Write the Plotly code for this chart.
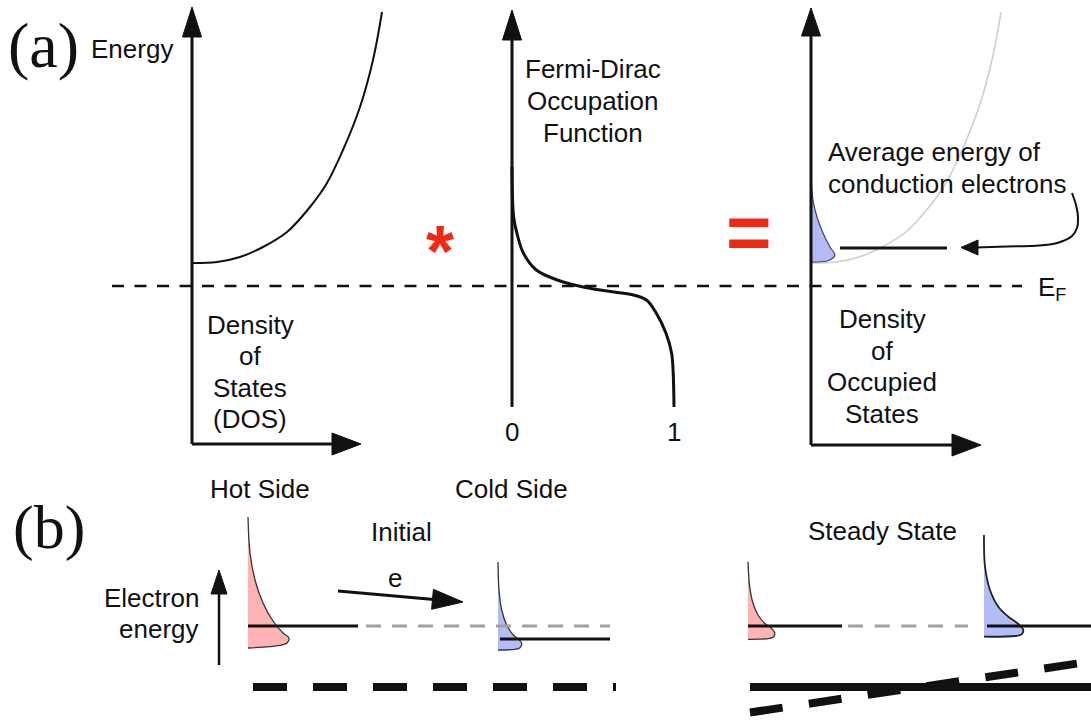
import plotly.graph_objects as go

W, H = 1091, 721
INK = "#111111"
RED = "#ee2a12"
SANS = "Arial"
SERIF = "Times New Roman"

# ---------------- panel (a) values ----------------
EF_Y = 286                      # canvas row of the Fermi level
DOS_X0, FD_X0, OCC_X0 = 192, 512, 811   # energy-axis columns of the three sketches
FD_SCALE = 162                  # canvas width of occupation 0 -> 1

# density of states: density (right of axis) vs energy above E_F
dos_density = [0, 25, 48, 71, 95, 118, 135, 151, 168, 181, 190]
dos_energy = [23, 24, 29, 39, 54, 79, 103, 136, 179, 226, 274]

# Fermi-Dirac occupation vs energy above E_F
fd_occupation = [0.0, 0.01, 0.03, 0.07, 0.15, 0.28, 0.44, 0.63, 0.75,
                 0.83, 0.89, 0.95, 0.985, 0.995, 1.0]
fd_energy = [119, 69, 53, 33, 16, 6, -1, -6, -9, -14, -27, -47, -67, -87, -121]

# occupied states (DOS x occupation)
occ_density = [0, 2, 6, 12, 19, 24, 22, 16, 0]
occ_energy = [108, 86, 69, 53, 39, 31, 28, 25, 24]
occ_mean_energy = 38
fd_tick_labels = ["0", "1"]

# ---------------- panel (b) values ----------------
# distribution outlines: (width, height) offsets from each base corner
hot_init_w = [0, 2, 7, 15, 25, 35, 41, 39, 32, 0]
hot_init_h = [131, 95, 68, 45, 27, 15, 10, 5, 2.6, 0]
cold_init_w = [0, 1, 3.7, 8.7, 15.3, 21.3, 23.7, 22, 17, 0]
cold_init_h = [88, 60, 40, 25, 15, 10, 6.7, 2.3, 0.7, 0]
hot_ss_w = [0, 1.7, 5, 10, 16.7, 23.4, 26.7, 25.7, 21.7, 0]
hot_ss_h = [77.6, 52.6, 36, 24.3, 16, 11, 6.6, 2.6, 1, 0]
cold_ss_w = [0, 1, 6, 14.3, 24.3, 34.3, 39.3, 37.7, 31, 0]
cold_ss_h = [101.7, 70, 46.7, 30, 20, 12.7, 6.7, 2.4, 0.7, 0]

fig = go.Figure()


def line(xs, ys, color=INK, width=2.0, dash=None, shape="linear"):
    fig.add_trace(go.Scatter(
        x=list(xs), y=list(ys), mode="lines", hoverinfo="skip",
        line=dict(color=color, width=width, dash=dash, shape=shape)))


def area(xs, ys, fill, edge="#333333", width=1.3):
    fig.add_trace(go.Scatter(
        x=list(xs), y=list(ys), mode="lines", fill="toself", fillcolor=fill,
        hoverinfo="skip", line=dict(color=edge, width=width, shape="spline")))


def head(tip, base_a, base_b):
    fig.add_trace(go.Scatter(
        x=[tip[0], base_a[0], base_b[0], tip[0]],
        y=[tip[1], base_a[1], base_b[1], tip[1]],
        mode="lines", fill="toself", fillcolor=INK, hoverinfo="skip",
        line=dict(color=INK, width=1)))


def text(s, x, y, size=26, color=INK, family=SANS, xanchor="center", bold=False):
    fig.add_annotation(
        x=x, y=y, text=f"<b>{s}</b>" if bold else s, showarrow=False,
        xanchor=xanchor, yanchor="middle",
        font=dict(family=family, size=size, color=color))


def lines_of_text(rows, x, y0, step, xanchor="center"):
    for i, row in enumerate(rows):
        text(row, x, y0 + i * step, xanchor=xanchor)


# ---------- (a) left: density of states ----------
line([DOS_X0, DOS_X0], [444, 36], width=3)
head((DOS_X0, 7), (DOS_X0 - 9.5, 37), (DOS_X0 + 9.5, 37))
line([DOS_X0, 333], [444, 444], width=3)
head((361, 444), (332, 433), (332, 455))
line([DOS_X0 + d for d in dos_density], [EF_Y - e for e in dos_energy],
     width=2, shape="spline")

# ---------- (a) middle: Fermi-Dirac occupation ----------
line([FD_X0, FD_X0], [407, 39], width=3)
head((FD_X0, 10), (FD_X0 - 9.5, 40), (FD_X0 + 9.5, 40))
line([FD_X0 + f * FD_SCALE for f in fd_occupation], [EF_Y - e for e in fd_energy],
     width=3, shape="spline")

# ---------- (a) right: occupied states ----------
line([OCC_X0 + d for d in dos_density], [EF_Y - e for e in dos_energy],
     color="#cfcfcf", width=1.6, shape="spline")
area([OCC_X0 + d for d in occ_density], [EF_Y - e for e in occ_energy],
     fill="#b3bbf2", edge="#404060", width=1.2)
line([OCC_X0, OCC_X0], [445, 34], width=3)
head((OCC_X0, 8), (OCC_X0 - 9.5, 36), (OCC_X0 + 9.5, 36))
line([OCC_X0, 953], [445, 445], width=3)
head((981, 445), (952, 434), (952, 456))
line([840, 947], [EF_Y - occ_mean_energy] * 2, width=3)

# curved pointer to the mean-energy line
line([1072, 1076, 1078, 1077, 1072, 1063, 1053, 1030, 1007, 976],
     [193, 205, 217, 228, 236, 241, 244, 246, 246.5, 247.5], width=2, shape="spline")
head((961, 247.5), (978, 240), (978, 255))

# Fermi level
line([112, 1022], [EF_Y, EF_Y], width=2.6, dash="12px,10.5px")

# ---------- (b) Electron energy axis ----------
line([219, 219], [665, 592], width=2.5)
head((219, 570), (211, 594), (227, 594))

# e arrow (hot -> cold)
line([338, 434], [591, 599.5], width=3)
head((463, 602), (433.4, 589.3), (431.6, 609.3))

# initial state distributions
area([248 + w for w in hot_init_w], [648 - h for h in hot_init_h], fill="#ffb3b3")
area([498 + w for w in cold_init_w], [650 - h for h in cold_init_h], fill="#b3bdf5")
line([248, 358], [626, 626], width=3)
line([366, 610], [626, 626], color="#a0a0a0", width=3, dash="15px,11px")
line([500, 610], [639, 639], width=3)
line([253, 616], [687, 687], width=8, dash="34px,26px")

# steady-state distributions
area([748 + w for w in hot_ss_w], [639.3 - h for h in hot_ss_h], fill="#ffb3b3")
area([984 + w for w in cold_ss_w], [636.7 - h for h in cold_ss_h], fill="#b3bdf5",
     edge="#222222", width=1.8)
line([748, 842], [626, 626], width=3)
line([848, 968], [626, 626], color="#a0a0a0", width=3, dash="15px,11.7px")
line([987, 1091], [626, 626], width=3)
line([750, 1091], [687, 687], width=8)
line([750, 1091], [712.5, 661.5], width=8, dash="33px,26.5px")

# ---------- text ----------
text("(a)", 43, 45, size=64, family=SERIF)
text("(b)", 49, 527, size=62, family=SERIF)
text("Energy", 132, 49)
lines_of_text(["Density", "of", "States", "(DOS)"], 250, 325, 31.3)
lines_of_text(["Fermi-Dirac", "Occupation", "Function"], 593, 69, 32)
text(fd_tick_labels[0], FD_X0, 432)
text(fd_tick_labels[1], FD_X0 + FD_SCALE, 432)
lines_of_text(["Average energy of", "conduction electrons"], 826, 152, 31.5, xanchor="left")
lines_of_text(["Density", "of", "Occupied", "States"], 882, 319, 31.5)
text("E<sub>F</sub>", 1036, 288, xanchor="left")
text("*", 440, 251, size=72, color=RED, bold=True)
text("=", 749, 232, size=78, color=RED, bold=True)

text("Hot Side", 260, 489)
text("Cold Side", 511, 489)
text("Initial", 401, 532)
text("e", 395, 578)
text("Steady State", 882, 531)
text("Electron", 201, 598, xanchor="right")
text("energy", 201, 629, xanchor="right")

fig.update_layout(
    width=W, height=H, margin=dict(l=0, r=0, t=0, b=0),
    paper_bgcolor="white", plot_bgcolor="white", showlegend=False,
    xaxis=dict(range=[0, W], visible=False, fixedrange=True),
    yaxis=dict(range=[H, 0], visible=False, fixedrange=True),
)

fig.write_html("out.html", config={"displayModeBar": False})
